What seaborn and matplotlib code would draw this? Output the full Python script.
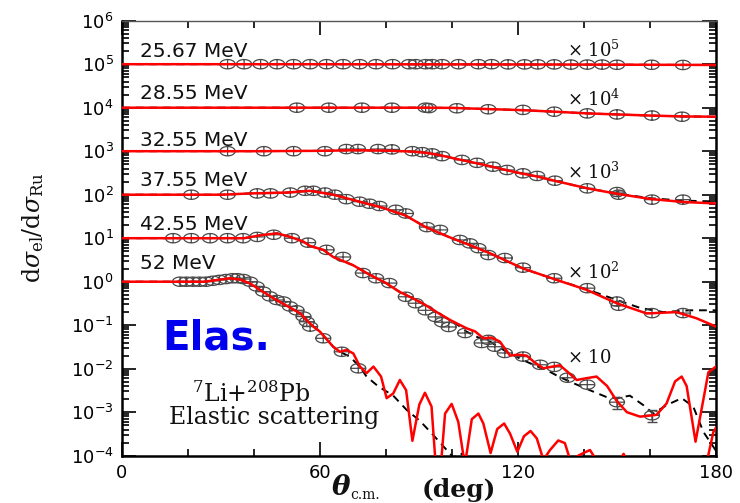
import numpy as np
import pandas as pd
import matplotlib
matplotlib.use("Agg")
import matplotlib.pyplot as plt
import seaborn as sns
from matplotlib.path import Path
from matplotlib.markers import MarkerStyle
from matplotlib.ticker import FixedLocator, LogLocator, MultipleLocator, NullFormatter

# ---------------------------------------------------------------- data
energies = ["25.67 MeV", "28.55 MeV", "32.55 MeV", "37.55 MeV", "42.55 MeV", "52 MeV"]
scales = [1e5, 1e4, 1e3, 1e2, 10, 1]
scale_labels = [r"$\times\ 10^{5}$", r"$\times\ 10^{4}$", r"$\times\ 10^{3}$",
                r"$\times\ 10^{2}$", r"$\times\ 10$", None]
x_ticks = [0, 60, 120, 180]
y_decades = [1e-4, 1e-3, 1e-2, 1e-1, 1e0, 1e1, 1e2, 1e3, 1e4, 1e5, 1e6]

# measured ratios sigma_el / sigma_Ru
exp_theta_2567 = [32, 37, 42, 47, 52, 57, 62, 67, 72, 77, 82, 87, 89, 92, 94, 97, 102,
                  108, 112, 117, 122, 126, 131, 136, 141, 145.5, 150, 160.5, 170]
exp_ratio_2567 = [1, 1, 1, 1, 1, 1, 1, 1, 1, 1, 1, 1, 1, 1, 1, 1, 1,
                  1, 1, 0.99, 0.99, 0.99, 0.99, 0.98, 0.98, 0.98, 0.97, 0.97, 0.96]

exp_theta_2855 = [53, 62.7, 72.7, 81.8, 92, 93, 101.5, 111, 121.5, 131, 141, 150, 160.6, 169.7]
exp_ratio_2855 = [1, 1, 1, 1, 1, 0.98, 0.97, 0.92, 0.89, 0.81, 0.74, 0.7, 0.66, 0.62]

exp_theta_3255 = [32, 43, 52, 61.5, 68, 71.5, 77.6, 81.8, 88, 91, 94, 97, 103, 107.6,
                  112.4, 116.7, 121.5, 125.8, 131.2, 141, 150, 150.5, 160.6, 170]
exp_ratio_3255 = [1, 1, 1, 1, 1.12, 1.12, 1.12, 1.1, 1.0, 0.95, 0.89, 0.77, 0.63, 0.54,
                  0.44, 0.37, 0.31, 0.27, 0.21, 0.14, 0.115, 0.1, 0.077, 0.077]

exp_theta_3755 = [21, 32, 41, 45, 51, 55.5, 58, 61.5, 64.5, 68, 72, 75, 78, 83, 86, 92.4,
                  96.4, 102.4, 105.4, 108, 111, 116, 121.5, 131, 141, 150, 150.5, 160.6, 170]
exp_ratio_3755 = [1, 1, 1.07, 1.07, 1.12, 1.23, 1.23, 1.12, 1.0, 0.79, 0.69, 0.62, 0.55,
                  0.45, 0.37, 0.18, 0.155, 0.091, 0.076, 0.059, 0.041, 0.035, 0.021,
                  0.012, 0.0071, 0.0035, 0.0028, 0.0019, 0.0019]

exp_theta_4255 = [15.5, 21, 26.7, 32, 36.7, 41, 46, 51.5, 56.4, 62, 67, 73, 77, 81, 86, 89,
                  92, 95, 97, 99, 104, 109, 111, 113, 116, 121.5, 126.7, 131, 135, 141,
                  150, 160.6]
exp_ratio_4255 = [1, 1, 1, 1, 1, 1.07, 1.2, 1.0, 0.79, 0.54, 0.37, 0.158, 0.12, 0.093,
                  0.045, 0.032, 0.022, 0.0155, 0.0117, 0.0091, 0.0066, 0.0039, 0.0046,
                  0.0032, 0.0023, 0.0019, 0.00123, 0.0011, 0.00062, 0.00043, 0.00017,
                  0.000085]
# relative uncertainty of the 42.55 MeV points where the bars show outside the symbols
err_theta_4255 = [150, 160.6]
err_ratio_4255 = [0.00017, 0.000085]
err_rel_4255 = [0.3, 0.3]

exp_theta_52 = [17.6, 19.5, 21.5, 23.5, 25.5, 27.5, 29.5, 31.5, 33.5, 35, 36.8, 38.8, 40.8,
                42.8, 44.8, 46.9, 48.9, 50.9, 52.9, 55, 56, 57, 61, 66.6, 71.6]
exp_ratio_52 = [1, 1, 1, 1, 1, 1.05, 1.1, 1.15, 1.2, 1.2, 1.15, 1.0, 0.78, 0.59, 0.46, 0.38,
                0.35, 0.27, 0.22, 0.158, 0.12, 0.093, 0.05, 0.0245, 0.0102]

# calculation 1 (solid red)
fit_theta_2567 = [0, 60, 100, 140, 180]
fit_ratio_2567 = [1.0, 1.0, 0.99, 0.98, 0.96]

fit_theta_2855 = [0, 60, 90, 100, 111, 121, 131, 141, 150, 160, 170, 180]
fit_ratio_2855 = [1, 1, 1.0, 0.99, 0.93, 0.88, 0.81, 0.74, 0.7, 0.66, 0.63, 0.62]

fit_theta_3255 = [0, 40, 60, 70, 80, 88, 92, 96, 100, 105, 110, 115, 120, 126, 131, 141,
                  150, 160, 170, 180]
fit_ratio_3255 = [1, 1, 1.02, 1.05, 1.03, 0.98, 0.92, 0.82, 0.7, 0.58, 0.48, 0.39, 0.32,
                  0.26, 0.21, 0.14, 0.105, 0.08, 0.068, 0.063]

fit_theta_3755 = [0, 30, 39, 50, 57, 64, 72, 79, 86, 92, 99, 105.5, 111.5, 121.6, 131.7,
                  140.8, 149.9, 159, 168, 174, 180]
fit_ratio_3755 = [1, 1, 1.07, 1.12, 1.23, 1.0, 0.69, 0.5, 0.33, 0.18, 0.107, 0.069, 0.045,
                  0.020, 0.011, 0.0065, 0.0032, 0.00186, 0.0020, 0.00145, 0.00093]

fit_theta_4255 = [0, 30, 37, 42, 47, 51, 55, 57, 61, 64, 70, 75, 80, 84, 88, 92, 96, 99.4,
                  102, 104.4, 107, 109.5, 112, 114.5, 117.6, 120, 122.6, 125, 127.7, 130,
                  132.7, 135, 137.8, 140.5, 143.8, 147, 149.9, 153, 157, 162, 165, 167.6,
                  169.6, 171.1, 173.8, 176.2, 177.7, 180]
fit_ratio_4255 = [1, 1, 1.0, 1.17, 1.29, 1.07, 0.83, 0.66, 0.54, 0.37, 0.24, 0.145, 0.093,
                  0.059, 0.042, 0.029, 0.0186, 0.0132, 0.0105, 0.0085, 0.0072, 0.005,
                  0.0052, 0.0042, 0.002, 0.0021, 0.002, 0.0014, 0.00102, 0.0011, 0.0012,
                  0.00085, 0.00055, 0.0006, 0.00066, 0.0004, 0.000182, 0.0001, 0.000079,
                  0.000087, 0.000158, 0.00051, 0.00066, 0.0004, 0.000021, 0.0002, 0.00083,
                  0.00112]

fit_theta_52 = [0, 25, 32.7, 35.8, 38.8, 41.8, 45.8, 49.9, 53.9, 56.4, 58, 60, 64, 66, 68.1,
                70.1, 72.1, 74.1, 76.2, 78.5, 80.2, 82.2, 84.2, 86.1, 88, 90.1, 91.8, 93.8,
                95.8, 97.9, 99.9, 101.9, 103.9, 106, 108, 109.5, 111.7, 113.7, 115.8, 117.6,
                119.8, 121.8, 123.8, 125.7, 127.7, 129.7, 132.2, 134.2, 135.8, 139.8, 141.8,
                143.3, 147, 152, 157, 163, 170, 176, 177.5, 179.2, 180]
fit_ratio_52 = [1, 1, 1.2, 1.12, 0.91, 0.65, 0.42, 0.28, 0.19, 0.12, 0.093, 0.071, 0.032,
                0.0245, 0.027, 0.0224, 0.0112, 0.0079, 0.0112, 0.0066, 0.0021, 0.0027, 0.0055,
                0.0032, 0.00022, 0.0015, 0.0028, 0.00135, 0.00001, 0.00093, 0.00155, 0.0006,
                0.00006, 0.00069, 0.00093, 0.00055, 0.000115, 0.00041, 0.00055, 0.00032,
                0.000123, 0.00028, 0.00037, 0.00025, 0.00008, 0.000135, 0.000224, 0.000195,
                0.00008, 0.000115, 0.000135, 0.00009, 0.000025, 0.00011, 0.00002, 0.00004,
                0.000025, 0.00005, 0.00009, 0.00035, 0.00044]

# calculation 2 (dashed black)
alt_theta_2567 = fit_theta_2567
alt_ratio_2567 = fit_ratio_2567
alt_theta_2855 = fit_theta_2855
alt_ratio_2855 = fit_ratio_2855
alt_theta_3255 = fit_theta_3255
alt_ratio_3255 = [1, 1, 1.02, 1.05, 1.03, 0.98, 0.92, 0.82, 0.7, 0.58, 0.48, 0.39, 0.32,
                  0.26, 0.21, 0.14, 0.107, 0.083, 0.073, 0.07]
alt_theta_3755 = [0, 30, 39, 50, 57, 64, 72, 79, 86, 92, 99, 105.5, 111.5, 121.6, 131.7,
                  140.8, 149.9, 157, 164, 172, 180]
alt_ratio_3755 = [1, 1, 1.07, 1.12, 1.23, 1.0, 0.69, 0.5, 0.33, 0.18, 0.107, 0.069, 0.045,
                  0.020, 0.011, 0.0067, 0.0038, 0.0025, 0.002, 0.0022, 0.0022]
alt_theta_4255 = [0, 30, 37, 42, 47, 51, 55, 57, 61, 64, 70, 75, 80, 84, 88, 92, 96, 99.4,
                  102, 104.4, 108, 111.5, 116, 121.5, 125, 128.7, 132, 135.8, 141.8, 147,
                  150, 153.9, 158, 161, 165, 169.6, 173.1, 176.2, 179.2, 180]
alt_ratio_4255 = [1, 1, 1.0, 1.17, 1.29, 1.07, 0.83, 0.66, 0.54, 0.37, 0.24, 0.145, 0.093,
                  0.059, 0.042, 0.029, 0.0186, 0.0132, 0.0098, 0.0071, 0.0052, 0.0042,
                  0.0026, 0.00158, 0.0012, 0.00093, 0.00068, 0.0005, 0.00032, 0.00022,
                  0.00021, 0.00024, 0.000145, 0.000093, 0.000145, 0.00021, 0.000135,
                  0.000035, 0.000016, 0.000013]
alt_theta_52 = [0, 25, 32.7, 35.8, 38.8, 41.8, 45.8, 49.9, 53.9, 56.4, 58, 60, 64, 66, 69,
                72, 74.1, 77.7, 82.2, 86.3, 90.3, 94.3, 98.4, 100.5, 102.5, 104.5, 108, 115,
                180]
alt_ratio_52 = [1, 1, 1.2, 1.12, 0.91, 0.65, 0.42, 0.28, 0.19, 0.12, 0.093, 0.071, 0.032,
                0.0245, 0.019, 0.0112, 0.0066, 0.0039, 0.0024, 0.00112, 0.00063, 0.0003,
                0.000135, 0.00009, 0.000115, 0.00009, 0.00004, 0.00001, 0.000001]

exp_sets = [(exp_theta_2567, exp_ratio_2567), (exp_theta_2855, exp_ratio_2855),
            (exp_theta_3255, exp_ratio_3255), (exp_theta_3755, exp_ratio_3755),
            (exp_theta_4255, exp_ratio_4255), (exp_theta_52, exp_ratio_52)]
fit_sets = [(fit_theta_2567, fit_ratio_2567), (fit_theta_2855, fit_ratio_2855),
            (fit_theta_3255, fit_ratio_3255), (fit_theta_3755, fit_ratio_3755),
            (fit_theta_4255, fit_ratio_4255), (fit_theta_52, fit_ratio_52)]
alt_sets = [(alt_theta_2567, alt_ratio_2567), (alt_theta_2855, alt_ratio_2855),
            (alt_theta_3255, alt_ratio_3255), (alt_theta_3755, alt_ratio_3755),
            (alt_theta_4255, alt_ratio_4255), (alt_theta_52, alt_ratio_52)]


def long_table(sets):
    frames = []
    for name, k, (th, r) in zip(energies, scales, sets):
        frames.append(pd.DataFrame({"theta": th, "value": np.asarray(r) * k, "energy": name}))
    return pd.concat(frames, ignore_index=True)


exp_df = long_table(exp_sets)
fit_df = long_table(fit_sets)
alt_df = long_table(alt_sets)

# ---------------------------------------------------------------- style
sns.set_theme(style="ticks")
plt.rcParams["font.family"] = ["DejaVu Sans"]
plt.rcParams["axes.linewidth"] = 1.8
plt.rcParams["axes.edgecolor"] = "black"

fig = plt.figure(figsize=(7.4, 5.03), dpi=100)
ax = fig.add_axes([0.16486, 0.09404, 0.80270, 0.86481])

# open ellipse with a cross: data symbol
t = np.linspace(0, 2 * np.pi, 41)
verts = list(zip(np.cos(t), 0.62 * np.sin(t)))
codes = [Path.MOVETO] + [Path.LINETO] * 39 + [Path.CLOSEPOLY]
verts += [(-1, 0), (1, 0), (0, -0.62), (0, 0.62)]
codes += [Path.MOVETO, Path.LINETO, Path.MOVETO, Path.LINETO]
symbol = MarkerStyle(Path(verts, codes), fillstyle="none")

sns.lineplot(data=alt_df, x="theta", y="value", units="energy", estimator=None,
             sort=False, color="black", lw=1.4, ax=ax, dashes=False,
             linestyle=(0, (4, 3)), zorder=2)
sns.scatterplot(data=exp_df, x="theta", y="value", marker=symbol, s=118,
                color="#4a4a4a", linewidth=0.9, ax=ax, zorder=3)
sns.lineplot(data=fit_df, x="theta", y="value", units="energy", estimator=None,
             sort=False, color="#ff0000", lw=1.8, ax=ax, zorder=4)

err_val = np.asarray(err_ratio_4255) * 10
ax.errorbar(err_theta_4255, err_val, yerr=err_val * np.asarray(err_rel_4255),
            fmt="none", ecolor="#4a4a4a", elinewidth=1.0, capsize=3.5, zorder=3)

ax.set_yscale("log")
ax.set_xlim(0, 180)
ax.set_ylim(1e-4, 1e6)
ax.set_xlabel("")
ax.set_ylabel("")
ax.xaxis.label.set_visible(False)
ax.yaxis.label.set_visible(False)

ax.xaxis.set_major_locator(FixedLocator(x_ticks))
ax.xaxis.set_minor_locator(MultipleLocator(20))
ax.xaxis.set_minor_formatter(NullFormatter())
ax.yaxis.set_major_locator(FixedLocator(y_decades))
ax.set_yticklabels([rf"$10^{{{int(round(np.log10(v)))}}}$" for v in y_decades])
ax.yaxis.set_minor_locator(LogLocator(base=10, subs=np.arange(2, 10), numticks=20))
ax.yaxis.set_minor_formatter(NullFormatter())
ax.tick_params(which="both", direction="in", top=True, right=True, colors="black",
               labelsize=13, width=1.2)
ax.tick_params(which="major", length=10, pad=6)
ax.tick_params(which="minor", length=5)
for s in ax.spines.values():
    s.set_visible(True)
    s.set_color("black")
ax.spines["top"].set_linewidth(1.0)
ax.spines["top"].set_color("#555555")

# ---------------------------------------------------------------- text
label_y = [0.9303, 0.8315, 0.7257, 0.6315, 0.5326, 0.4407]
for name, yy in zip(energies, label_y):
    ax.text(0.0303, yy, name, transform=ax.transAxes, ha="left", va="center",
            fontsize=14.5, color="#111111")

scale_y = [0.9326, 0.8200, 0.6522, 0.4223, 0.2246]
for lab, yy in zip(scale_labels, scale_y):
    ax.text(0.749, yy, lab, transform=ax.transAxes, ha="left", va="center",
            fontsize=13, family="DejaVu Serif", math_fontfamily="dejavuserif",
            color="#111111")

ax.text(0.1582, 0.2683, "Elas.", transform=ax.transAxes, ha="center", va="center",
        fontsize=29, fontweight="bold", color="#0000ee")
ax.text(0.2172, 0.1418, r"$^{7}$Li+$^{208}$Pb", transform=ax.transAxes, ha="center",
        va="center", fontsize=17, family="DejaVu Serif", math_fontfamily="dejavuserif",
        color="#111111")
ax.text(0.2559, 0.0867, "Elastic scattering", transform=ax.transAxes, ha="center",
        va="center", fontsize=17, family="DejaVu Serif", color="#111111")

fig.text(0.0446, 0.5467, r"$\mathrm{d}\sigma_{\mathrm{el}}/\mathrm{d}\sigma_{\mathrm{Ru}}$",
         rotation=90, ha="center", va="center", fontsize=17,
         math_fontfamily="dejavuserif", color="#111111")
fig.text(0.4608, 0.0310, "θ", ha="center", va="center", fontsize=20,
         family="DejaVu Serif", style="italic", fontweight="bold", color="#111111")
fig.text(0.4735, 0.0165, "c.m.", ha="left", va="center", fontsize=10,
         family="DejaVu Serif", color="#111111")
fig.text(0.6203, 0.0265, "(deg)", ha="center", va="center", fontsize=18,
         family="DejaVu Serif", fontweight="bold", color="#111111")

fig.savefig("out.png", dpi=100)
